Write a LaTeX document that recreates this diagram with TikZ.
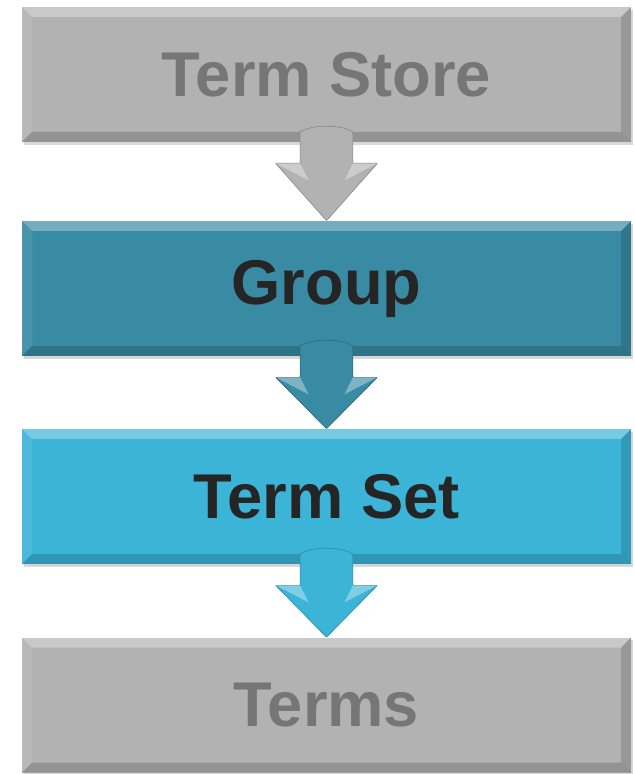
\documentclass[tikz,border=0pt]{standalone}
\usepackage{fontspec}
\setmainfont{Liberation Sans}
\usetikzlibrary{calc,shadows}
\definecolor{boxgray}{HTML}{B2B2B2}
\definecolor{txtgray}{HTML}{767676}
\definecolor{groupteal}{HTML}{398BA3}
\definecolor{setblue}{HTML}{3BB4D8}
\definecolor{txtdark}{HTML}{252525}
\tikzset{
  level/.style={rectangle, minimum width=15.225cm, minimum height=3.375cm,
    inner sep=0pt, fill=#1, font=\bfseries\fontsize{45}{50}\selectfont,
    drop shadow={opacity=.3, shadow xshift=.04cm, shadow yshift=-.07cm},
    path picture={
      \path (path picture bounding box.north west) coordinate (bnw)
            (path picture bounding box.north east) coordinate (bne)
            (path picture bounding box.south west) coordinate (bsw)
            (path picture bounding box.south east) coordinate (bse);
      \fill[white,opacity=.3] (bnw) -- (bne) -- ([shift={(-.25,-.25)}]bne) -- ([shift={(.25,-.25)}]bnw) -- cycle;
      \fill[white,opacity=.08] (bnw) -- ([shift={(.25,-.25)}]bnw) -- ([shift={(.25,.25)}]bsw) -- (bsw) -- cycle;
      \fill[black,opacity=.14] (bne) -- (bse) -- ([shift={(-.25,.25)}]bse) -- ([shift={(-.25,-.25)}]bne) -- cycle;
      \fill[black,opacity=.17] (bsw) -- (bse) -- ([shift={(-.25,.25)}]bse) -- ([shift={(.25,.25)}]bsw) -- cycle;
    }},
  downarrow/.style={fill=#1, draw=#1!75!black, line width=.4pt, rounded corners=.5pt}
}
\begin{document}
\begin{tikzpicture}
        \useasboundingbox[fill=white] (0,0) rectangle (15.85,-19.35);
        \node[level=boxgray, text=txtgray] (store) at (8.1625,-1.8625) {Term Store};
        \node[level=groupteal, text=txtdark] (group) at (8.1625,-7.2125) {Group};
        \node[level=setblue, text=txtdark] (set) at (8.1625,-12.4125) {Term Set};
        \node[level=boxgray, text=txtgray] (terms) at (8.1625,-17.625) {Terms};
        
        % block arrows between the levels
        \foreach \a/\b/\c in {store/group/boxgray, group/set/groupteal, set/terms/setblue}{
          \filldraw[downarrow=\c] ($(\a.south)+(-.66,.25)$) -- ($(\a.south)+(-.66,-.525)$)
            -- ($(\a.south)+(-1.275,-.525)$) -- (\b.north) -- ($(\a.south)+(1.275,-.525)$)
            -- ($(\a.south)+(.66,-.525)$) -- ($(\a.south)+(.66,.25)$)
            .. controls ($(\a.south)+(.4,.45)$) and ($(\a.south)+(-.4,.45)$) .. cycle;
          \fill[white,opacity=.35] ($(\a.south)+(-1.275,-.525)$) -- ($(\a.south)+(-.66,-.525)$)
            -- ($(\a.south)+(-.45,-.95)$) -- cycle;
          \fill[white,opacity=.35] ($(\a.south)+(1.275,-.525)$) -- ($(\a.south)+(.66,-.525)$)
            -- ($(\a.south)+(.45,-.95)$) -- cycle;
        }
\end{tikzpicture}
\end{document}
